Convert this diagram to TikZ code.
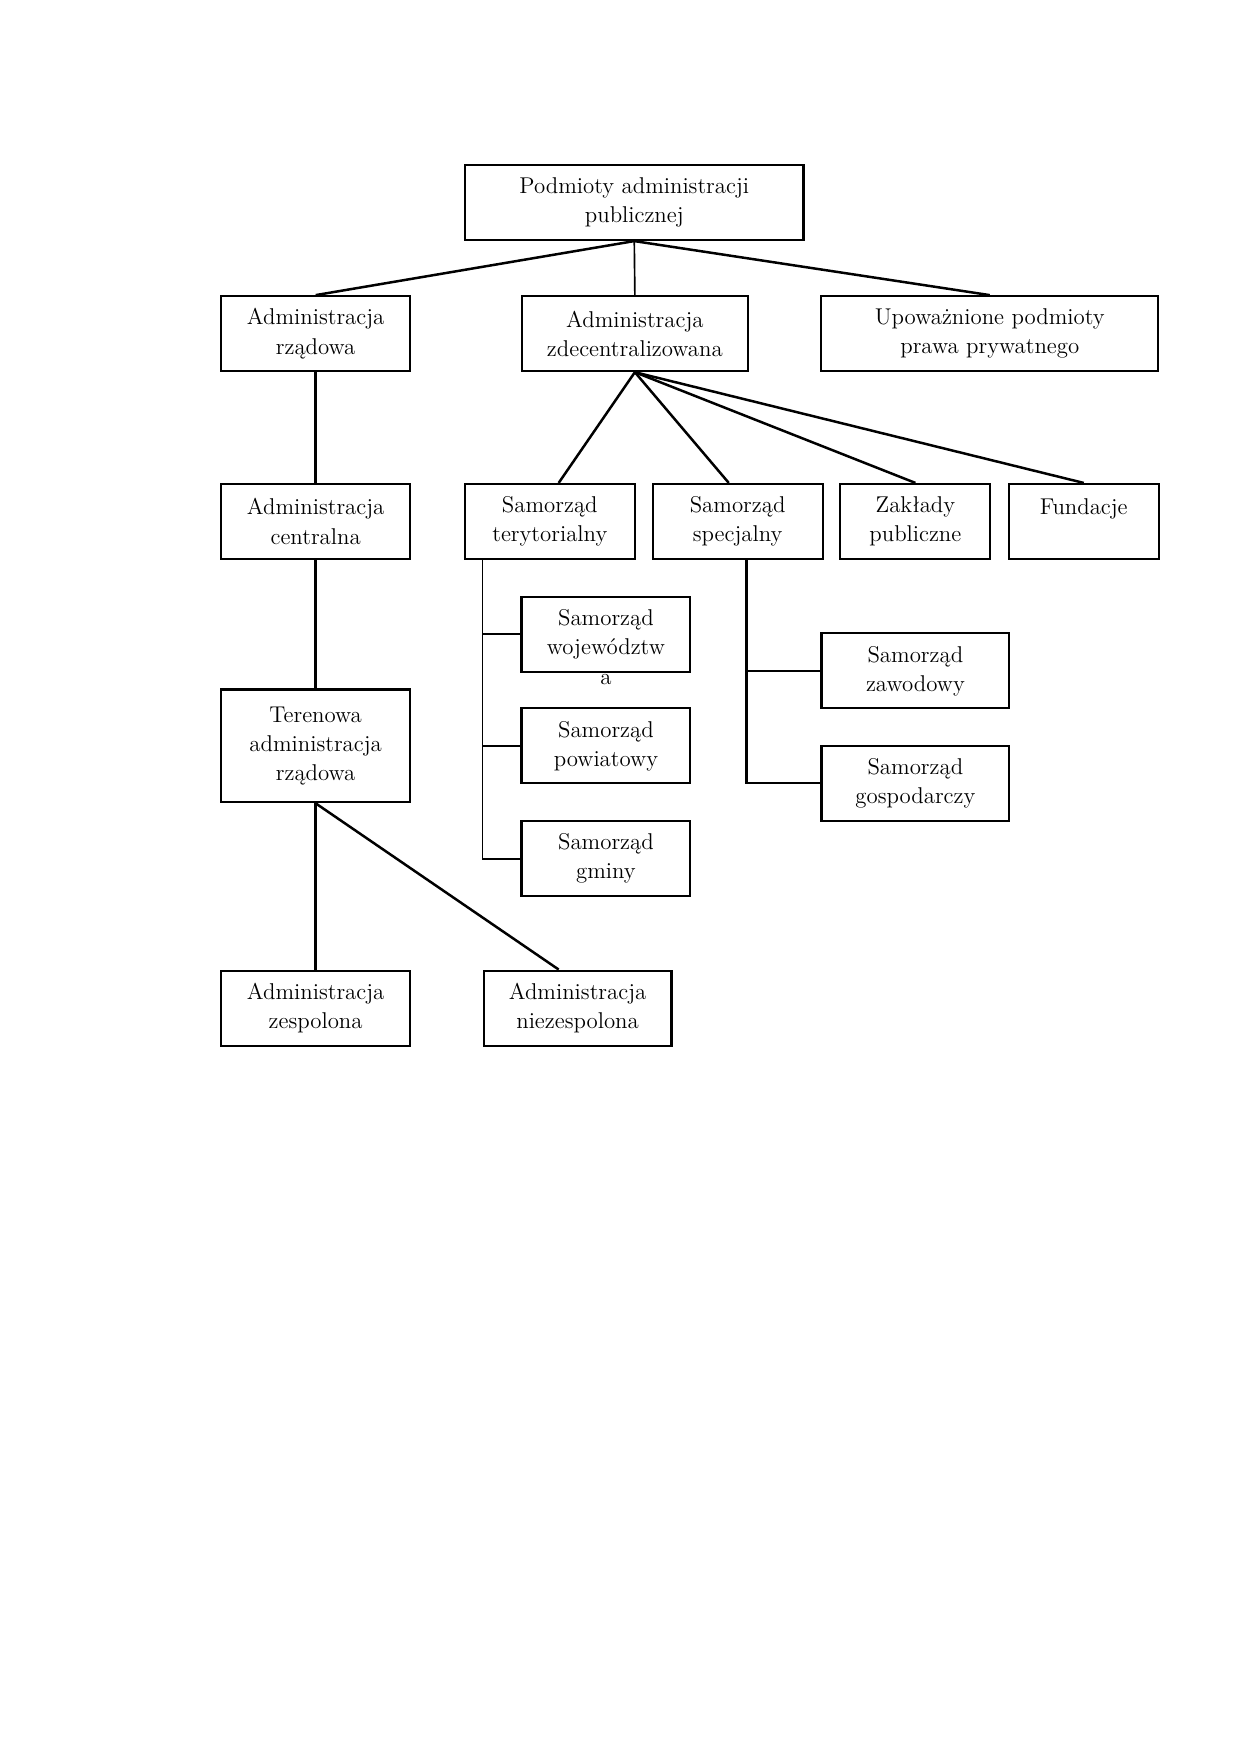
\documentclass[tikz,border=0pt]{standalone}
\usepackage{tikz}

\begin{document}
\begin{tikzpicture}[box/.style={draw,line width=1pt,minimum height=1.27cm,inner sep=0pt,align=center,font=\fontsize{11}{14}\selectfont},
  link/.style={line width=0.8pt}, heavy/.style={line width=1.2pt}]
\useasboundingbox (0,0) rectangle (21,29.7);
% first level
\node [box,minimum width=5.73cm] (a) at (10.74,26.27) {Podmioty administracji\\publicznej};
\node [box,minimum width=3.20cm] (b) at (5.345,24.05) {Administracja\\rządowa};
\node [box,minimum width=3.82cm] (c) at (10.75,24.05) {Administracja\\zdecentralizowana};
\node [box,minimum width=5.71cm] (d) at (16.76,24.05) {Upoważnione podmioty\\prawa prywatnego};
% second level
\node [box,minimum width=3.20cm] (e) at (5.345,20.87) {Administracja\\centralna};
\node [box,minimum width=2.88cm] (f) at (9.31,20.87) {Samorząd\\terytorialny};
\node [box,minimum width=2.88cm] (g) at (12.49,20.87) {Samorząd\\specjalny};
\node [box,minimum width=2.54cm] (h) at (15.50,20.87) {Zakłady\\publiczne};
\node [box,minimum width=2.54cm] (i) at (18.35,20.87) {Fundacje\\\mbox{}};
% samorzad terytorialny
\node [box,minimum width=2.86cm,label={[inner sep=0pt,label distance=0.02cm,font=\fontsize{11}{14}\selectfont]below:a}] (j) at (10.26,18.96) {Samorząd\\województw};
\node [box,minimum width=2.86cm] (k) at (10.26,17.07) {Samorząd\\powiatowy};
\node [box,minimum width=2.86cm] (l) at (10.26,15.16) {Samorząd\\gminy};
% samorzad specjalny
\node [box,minimum width=3.18cm] (m) at (15.50,18.34) {Samorząd\\zawodowy};
\node [box,minimum width=3.18cm] (n) at (15.50,16.44) {Samorząd\\gospodarczy};
% administracja rzadowa
\node [box,minimum width=3.20cm,minimum height=1.91cm] (o) at (5.345,17.07) {Terenowa\\administracja\\rządowa};
\node [box,minimum width=3.20cm] (p) at (5.345,12.63) {Administracja\\zespolona};
\node [box,minimum width=3.18cm] (q) at (9.78,12.63) {Administracja\\niezespolona};

\draw [heavy] (a.south) -- (b.north);
\draw [link] (a.south) -- (c.north);
\draw [heavy] (a.south) -- (d.north);
\draw [heavy] (b.south) -- (e.north);
\draw [heavy] (e.south) -- (o.north);
\draw [heavy] (c.south) -- ([xshift=0.15cm]f.north);
\draw [heavy] (c.south) -- ([xshift=-0.15cm]g.north);
\draw [heavy] (c.south) -- (h.north);
\draw [heavy] (c.south) -- (i.north);
\draw [link] ([xshift=0.32cm]f.south west) |- (l.west);
\draw [link] ([xshift=0.32cm]f.south west) |- (j.west);
\draw [heavy] ([xshift=0.32cm]f.south west |- k.west) -- (k.west);
\foreach \s in {m,n}
  \draw [heavy] ([xshift=0.15cm]g.south) |- (\s.west);
\draw [heavy] (o.south) -- (p.north);
\draw [heavy] (o.south) -- ([xshift=-0.32cm]q.north);
\end{tikzpicture}
\end{document}
